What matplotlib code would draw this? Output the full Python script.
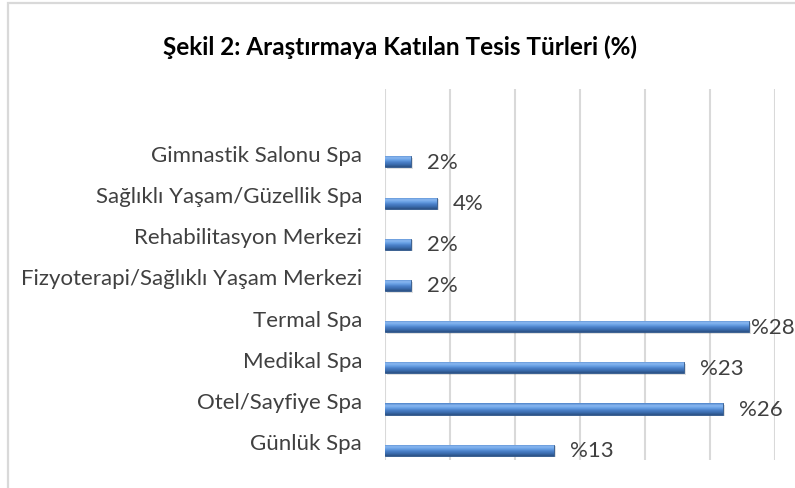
import numpy as np
import matplotlib
matplotlib.use("Agg")
import matplotlib.pyplot as plt
from matplotlib.patches import Rectangle

# Veriler (alttan üste)
kategoriler = ["Günlük Spa", "Otel/Sayfiye Spa", "Medikal Spa", "Termal Spa",
               "Fizyoterapi/Sağlıklı Yaşam Merkezi", "Rehabilitasyon Merkezi",
               "Sağlıklı Yaşam/Güzellik Spa", "Gimnastik Salonu Spa"]
yuzdeler = [13, 26, 23, 28, 2, 2, 4, 2]
etiketler = ["%13", "%26", "%23", "%28", "2%", "2%", "4%", "2%"]
baslik = "Şekil 2: Araştırmaya Katılan Tesis Türleri (%)"

plt.rcParams['font.family'] = ['Lato', 'DejaVu Sans']

W, H = 795, 489
fig = plt.figure(figsize=(W / 100, H / 100), dpi=100)
fig.patch.set_facecolor("white")

# dış çerçeve
fig.patches.append(Rectangle((8 / W, -0.1), 1.2, 1 - 4 / H + 0.1,
                             transform=fig.transFigure, fill=False,
                             edgecolor="#d9d9d9", linewidth=1.6))

ax = fig.add_axes([385 / W, (H - 461) / H, (775 - 385) / W, (461 - 90) / H])

y = np.arange(len(kategoriler))
kayma = 0.22    # 3B görünüm: çubuklar etiketlerin biraz altında
kalinlik = 0.27

# gölge
ax.barh(y - kayma - 0.04, yuzdeler, height=kalinlik, left=0.12,
        color="#000000", alpha=0.12, zorder=2)

# gradyan çubuklar
renkler = matplotlib.colors.LinearSegmentedColormap.from_list(
    "mavi", ["#2b4f82", "#3a6cae", "#4a80c8", "#6aa2e6", "#8dbaf2", "#4a7fc6"])
grad = np.linspace(0, 1, 64).reshape(-1, 1)
cubuklar = ax.barh(y - kayma, yuzdeler, height=kalinlik, color="#4a7fc6",
                   edgecolor="#2f5688", linewidth=0.6, zorder=3)
for c in cubuklar:
    x0, y0 = c.get_x(), c.get_y()
    im = ax.imshow(grad, cmap=renkler, aspect="auto", zorder=3.5,
                   extent=(x0, x0 + c.get_width(), y0, y0 + c.get_height()),
                   origin="lower", interpolation="bicubic")
    im.set_clip_path(c)

# değer etiketleri
for yi, v, t in zip(y, yuzdeler, etiketler):
    ofs = 2 if v == max(yuzdeler) else 16
    ax.annotate(t, (v, yi - kayma), xytext=(ofs, 0), textcoords="offset pixels",
                ha="left", va="center", fontsize=16, color="#404040",
                annotation_clip=False)

ax.set_xlim(0, 30)
ax.set_ylim(-0.46, 8.55)
ax.set_xticks(np.arange(0, 31, 5))
ax.xaxis.grid(True, color="#d9d9d9", linewidth=1.5)
ax.set_axisbelow(True)
ax.tick_params(axis="x", length=0, labelbottom=False)
ax.tick_params(axis="y", length=0, pad=16.5, labelsize=16, labelcolor="#404040")
ax.set_yticks(y)
ax.set_yticklabels(kategoriler)
for s in ax.spines.values():
    s.set_visible(False)

fig.text(400 / W, 1 - 47 / H, baslik, ha="center", va="center",
         fontsize=17.5, fontweight="bold", color="#000000")

fig.savefig("out.png", dpi=100)
